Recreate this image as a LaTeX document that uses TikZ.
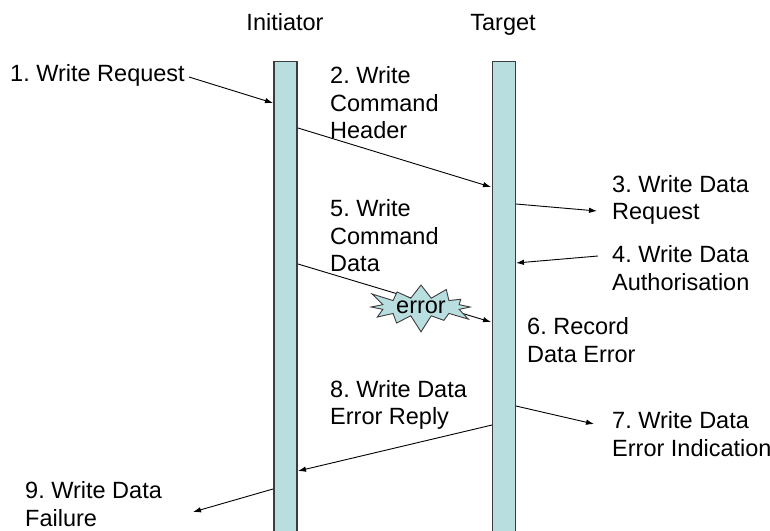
\documentclass[tikz,border=0pt]{standalone}
\usepackage{fontspec}
\setmainfont{Liberation Sans}
\usetikzlibrary{arrows.meta,shapes.symbols}
\definecolor{barfill}{RGB}{185,222,224}
\definecolor{bardraw}{RGB}{60,60,60}
\frenchspacing
\tikzset{
  bar/.style={draw=bardraw, line width=1.4pt, fill=barfill, minimum width=23pt, minimum height=475pt, anchor=north, inner sep=0pt},
  lbl/.style={anchor=west, align=left, inner sep=0pt, font=\fontsize{23.5}{27.5}\selectfont},
  msg/.style={line width=0.9pt, -{Latex[length=8pt,width=5.5pt]}}
}
\begin{document}
\begin{tikzpicture}[x=1pt,y=-1pt]
		\useasboundingbox (0,0) rectangle (770,530);
		%Lifelines
		\node [bar] (init) at (285.5,61) {};
		\node [bar] (targ) at (504,61) {};
		\node [lbl, anchor=base] (initlbl) at (285,30) {Initiator};
		\node [lbl, anchor=base] (targlbl) at (503,30) {Target};
		%Labels
		\node [lbl] (l1) at (10,75) {1. Write Request};
		\node [lbl] (l2) at (330,103) {2. Write\\Command\\Header};
		\node [lbl] (l3) at (612,200) {3. Write Data\\Request};
		\node [lbl] (l4) at (612,268) {4. Write Data\\Authorisation};
		\node [lbl] (l5) at (330,236) {5. Write\\Command\\Data};
		\node [lbl] (l6) at (527,340) {6. Record\\Data Error};
		\node [lbl] (l7) at (612,434) {7. Write Data\\Error Indication};
		\node [lbl] (l8) at (330,405) {8. Write Data\\Error Reply};
		\node [lbl] (l9) at (25,504) {9. Write Data\\Failure};
		%Arrow ends
		\coordinate (a1) at (189,77);   \coordinate (b1) at (273,103);
		\coordinate (a2) at (298,128);  \coordinate (b2) at (491,187);
		\coordinate (a3) at (516,204);  \coordinate (b3) at (597,211);
		\coordinate (a4) at (598,256);  \coordinate (b4) at (516,263);
		\coordinate (a5) at (298,264);  \coordinate (b5) at (491,322);
		\coordinate (a7) at (516,406);  \coordinate (b7) at (594,424);
		\coordinate (a8) at (492,425);  \coordinate (b8) at (298,471);
		\coordinate (a9) at (273,489);  \coordinate (b9) at (193,512);
		\draw [msg] (a1)--(b1);
		\draw [msg] (a2)--(b2);
		\draw [msg] (a3)--(b3);
		\draw [msg] (a4)--(b4);
		\draw [msg] (a5)--(b5);
		\draw [msg] (a7)--(b7);
		\draw [msg] (a8)--(b8);
		\draw [msg] (a9)--(b9);
		%Error
		\node [starburst, starburst points=12, starburst point height=18pt, draw=bardraw, line width=0.9pt, fill=barfill, minimum width=115pt, minimum height=44pt, inner sep=0pt, font=\fontsize{23.5}{27.5}\selectfont] (err) at (421,307) {error};
	\end{tikzpicture}
\end{document}
